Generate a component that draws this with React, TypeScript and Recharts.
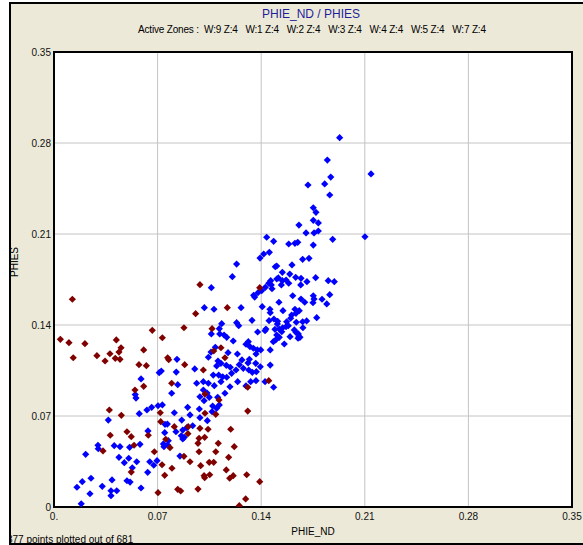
import React from 'react';
import { ScatterChart, Scatter, XAxis, YAxis, CartesianGrid, ReferenceArea } from 'recharts';

// PHIE_ND (x) vs PHIES (y)
const axisTicks = [0, 0.07, 0.14, 0.21, 0.28, 0.35];

const zoneTitle = 'PHIE_ND / PHIES';
const zoneList = 'Active Zones :  W:9 Z:4   W:1 Z:4   W:2 Z:4   W:3 Z:4   W:4 Z:4   W:5 Z:4   W:7 Z:4';
const footNote = '377 points plotted out of 681';

// blue = points passing the cutoffs
const bluePts: [number, number][] = [
  [0.0549, 0.0865], [0.0554, 0.0838], [0.0588, 0.0985], [0.0711, 0.1033], [0.0367, 0.0669], [0.0576, 0.0718],
  [0.0628, 0.0746], [0.066, 0.0767], [0.0703, 0.0779], [0.0635, 0.0585], [0.0214, 0.0405], [0.0297, 0.0475],
  [0.0299, 0.0448], [0.0407, 0.0472], [0.0446, 0.0464], [0.0511, 0.0459], [0.0581, 0.0482], [0.0439, 0.0382],
  [0.0505, 0.0375], [0.0475, 0.0341], [0.0559, 0.0348], [0.0529, 0.0302], [0.0647, 0.0348], [0.0674, 0.0321],
  [0.0696, 0.0356], [0.0633, 0.0267], [0.025, 0.0221], [0.0191, 0.0195], [0.0155, 0.0152], [0.0243, 0.0102],
  [0.0326, 0.0159], [0.0392, 0.0208], [0.0385, 0.0125], [0.0424, 0.0125], [0.0385, 0.0087], [0.0493, 0.0202],
  [0.0514, 0.0192], [0.0588, 0.0146], [0.0184, 0.0025],
  [0.0836, 0.0941], [0.0964, 0.0952], [0.1009, 0.0964], [0.1043, 0.0952], [0.1128, 0.0964], [0.1189, 0.0925],
  [0.1241, 0.0964], [0.1297, 0.0931], [0.1329, 0.0964], [0.1365, 0.0972], [0.1426, 0.0964], [0.0795, 0.0875],
  [0.0986, 0.0848], [0.1014, 0.0818], [0.1049, 0.0844], [0.1106, 0.0844], [0.1117, 0.0785], [0.1155, 0.0875],
  [0.0903, 0.0767], [0.0982, 0.0754], [0.0732, 0.0785], [0.0813, 0.0725], [0.0919, 0.0708], [0.0986, 0.0687],
  [0.1036, 0.0664], [0.0863, 0.0669], [0.075, 0.0636], [0.0766, 0.0638], [0.0937, 0.0625], [0.087, 0.0592],
  [0.0897, 0.061], [0.0824, 0.0579], [0.0748, 0.0572], [0.086, 0.0548], [0.087, 0.0523], [0.088, 0.0536],
  [0.0772, 0.051], [0.0739, 0.0485], [0.0743, 0.0464], [0.0768, 0.0477], [0.0851, 0.0392],
  [0.1009, 0.09], [0.1034, 0.0877], [0.1072, 0.0777], [0.1068, 0.0733], [0.1099, 0.0759], [0.1083, 0.0933],
  [0.1234, 0.1869], [0.1205, 0.1772], [0.1063, 0.1687], [0.1016, 0.1533], [0.1081, 0.1521], [0.1264, 0.1533],
  [0.1234, 0.1418], [0.1248, 0.1395], [0.1338, 0.1436], [0.1133, 0.141], [0.1117, 0.1372], [0.1063, 0.1331],
  [0.112, 0.1331], [0.1149, 0.1323], [0.1167, 0.1305], [0.1211, 0.1277], [0.1376, 0.1346], [0.1432, 0.1369],
  [0.1428, 0.169], [0.1451, 0.1721], [0.1349, 0.1628], [0.1378, 0.1648], [0.1403, 0.1664], [0.109, 0.1228],
  [0.1061, 0.1192], [0.1176, 0.1187], [0.1043, 0.1152], [0.0831, 0.1136], [0.0725, 0.1046], [0.0826, 0.1038],
  [0.0951, 0.1062], [0.1108, 0.1123], [0.1128, 0.1105], [0.1164, 0.109], [0.1191, 0.1075], [0.1099, 0.1085],
  [0.1076, 0.1015], [0.1113, 0.1015], [0.114, 0.1002], [0.1167, 0.0998], [0.1239, 0.1177], [0.127, 0.1131],
  [0.1252, 0.1095], [0.1279, 0.1067], [0.123, 0.1054], [0.12, 0.1028],
  [0.1313, 0.1272], [0.1297, 0.1252], [0.1324, 0.1233], [0.1347, 0.1221], [0.1374, 0.1208], [0.1397, 0.1208],
  [0.1365, 0.1177], [0.132, 0.1136], [0.1311, 0.1108], [0.1363, 0.1105], [0.1394, 0.1079], [0.1367, 0.1041],
  [0.134, 0.1036], [0.1316, 0.1054],
  [0.193, 0.2841], [0.1847, 0.2669], [0.2142, 0.2562], [0.187, 0.2538], [0.1829, 0.2485], [0.1716, 0.2477],
  [0.1863, 0.24], [0.1752, 0.2302], [0.177, 0.2267], [0.1752, 0.2205], [0.1786, 0.2185], [0.1655, 0.2169],
  [0.1703, 0.2108], [0.1757, 0.2108], [0.1786, 0.2123], [0.2101, 0.2079], [0.1883, 0.2059], [0.1437, 0.2075],
  [0.1484, 0.2044], [0.1586, 0.2023], [0.1628, 0.2028], [0.1647, 0.2036], [0.1752, 0.2015], [0.1392, 0.1915],
  [0.1417, 0.1946], [0.1455, 0.1959], [0.168, 0.1905], [0.1723, 0.1913], [0.1608, 0.1862], [0.1495, 0.1848],
  [0.1505, 0.1854],
  [0.1543, 0.1805], [0.1593, 0.1792], [0.1464, 0.1741], [0.1468, 0.1708], [0.1473, 0.1679], [0.1505, 0.1754],
  [0.1516, 0.1762], [0.1543, 0.1741], [0.1568, 0.1746], [0.1536, 0.1708], [0.1586, 0.1721], [0.1633, 0.1767],
  [0.1669, 0.1759], [0.1667, 0.1708], [0.1709, 0.1733], [0.1768, 0.1764], [0.1853, 0.1741], [0.1894, 0.1733],
  [0.1356, 0.1615], [0.1613, 0.1625], [0.1669, 0.16], [0.1694, 0.1575], [0.1752, 0.1625], [0.1757, 0.16],
  [0.175, 0.1572], [0.1811, 0.1598], [0.1863, 0.1633], [0.1843, 0.1562], [0.152, 0.1575], [0.1407, 0.1541],
  [0.1459, 0.1521], [0.1461, 0.1495], [0.1547, 0.151], [0.1628, 0.1521], [0.1657, 0.151], [0.1635, 0.149],
  [0.1606, 0.1477], [0.1599, 0.1452], [0.1775, 0.1456], [0.1453, 0.1433], [0.1486, 0.1446], [0.1511, 0.1428],
  [0.1509, 0.1408], [0.1572, 0.1425], [0.1583, 0.1395], [0.1568, 0.1387], [0.1545, 0.1379], [0.1637, 0.1421],
  [0.168, 0.1425], [0.1707, 0.1431], [0.1682, 0.1379], [0.1426, 0.1356], [0.1493, 0.1367], [0.1522, 0.1369],
  [0.1539, 0.1348], [0.1624, 0.1362], [0.1635, 0.1344], [0.1651, 0.1331], [0.1655, 0.131], [0.1649, 0.1298],
  [0.1662, 0.1305], [0.1595, 0.131], [0.1505, 0.1323], [0.1522, 0.1305], [0.1498, 0.1285], [0.1482, 0.1272],
  [0.1556, 0.1254], [0.1461, 0.1208], [0.1461, 0.1092], [0.1484, 0.0921],
];

// dark red = points failing the cutoffs
const redPts: [number, number][] = [
  [0.0124, 0.1598], [0.0043, 0.129], [0.0101, 0.1264], [0.013, 0.1148], [0.0209, 0.1256], [0.029, 0.1164],
  [0.0345, 0.1123], [0.0378, 0.1179], [0.0421, 0.1285], [0.0453, 0.1225], [0.0439, 0.1192], [0.0414, 0.1144],
  [0.0446, 0.1136], [0.0664, 0.1359], [0.0606, 0.1208], [0.0574, 0.1095], [0.0624, 0.1087], [0.0606, 0.0928],
  [0.0547, 0.09], [0.0374, 0.0746], [0.0455, 0.0705], [0.038, 0.0552], [0.0493, 0.0579], [0.0522, 0.0541],
  [0.0331, 0.0431], [0.0541, 0.0475], [0.0637, 0.0552], [0.0678, 0.0425], [0.0522, 0.0269], [0.0703, 0.011],
  [0.0795, 0.0952], [0.102, 0.0869], [0.1115, 0.0823], [0.1309, 0.0738], [0.102, 0.0721], [0.1093, 0.0713],
  [0.0718, 0.0725], [0.0721, 0.0656], [0.0813, 0.0618], [0.0907, 0.0618], [0.0986, 0.0605], [0.1041, 0.0598],
  [0.1194, 0.0598], [0.0905, 0.0564], [0.098, 0.0528], [0.1018, 0.0536], [0.0755, 0.0521], [0.0973, 0.049],
  [0.111, 0.049], [0.0784, 0.0456], [0.1218, 0.0464], [0.098, 0.0425], [0.1093, 0.0425], [0.0878, 0.039],
  [0.118, 0.0382], [0.0919, 0.0348], [0.1049, 0.0344], [0.1079, 0.0344], [0.073, 0.0325], [0.0991, 0.0318],
  [0.0797, 0.0298], [0.1164, 0.0285], [0.0748, 0.0244], [0.1014, 0.0241], [0.1018, 0.0225], [0.1052, 0.0248],
  [0.1187, 0.0221], [0.1211, 0.0241], [0.1302, 0.0248], [0.139, 0.0195], [0.0836, 0.0136], [0.0856, 0.0123],
  [0.0973, 0.0138], [0.1295, 0.0062], [0.1252, 0.001], [0.0986, 0.171], [0.0957, 0.1487], [0.1171, 0.1533],
  [0.139, 0.1687], [0.0732, 0.1302], [0.0878, 0.1379], [0.1068, 0.1372], [0.1128, 0.1225], [0.1079, 0.12],
  [0.0768, 0.1148], [0.0775, 0.1133], [0.0883, 0.1095], [0.1009, 0.1054], [0.1155, 0.1148], [0.1309, 0.0921],
  [0.1451, 0.0972],
];

const toRows = (pts: [number, number][]) => pts.map(([x, y]) => ({ x, y }));

const FONT = '"Liberation Sans", Arial, sans-serif';

const Diamond = (props: any) => {
  const { cx, cy, fill } = props;
  if (cx == null || cy == null) return null;
  const r = 3.6;
  return <polygon points={`${cx},${cy - r} ${cx + r},${cy} ${cx},${cy + r} ${cx - r},${cy}`} fill={fill} />;
};

const fmtX = (v: number) => (v === 0 ? '0.' : v.toFixed(2));
const fmtY = (v: number) => (v === 0 ? '0' : v.toFixed(2));

export default function App() {
  const tickStyle = { fontSize: 10, fill: '#111', fontFamily: FONT };
  return (
    <div style={{ position: 'absolute', left: 0, top: 0, width: 583, height: 545, background: '#fff', overflow: 'hidden' }}>
      <div style={{ position: 'absolute', left: 9, top: 2, width: 600, height: 543, background: '#ECE9D8' }} />
      <div style={{ position: 'absolute', left: 0, top: 0 }}>
        <ScatterChart width={583} height={545} margin={{ top: 52, right: 11, bottom: 8, left: 14 }}>
          <CartesianGrid stroke="#C4C4C4" fill="#FFFFFF" fillOpacity={1} />
          <XAxis
            type="number"
            dataKey="x"
            domain={[0, 0.35]}
            ticks={axisTicks}
            interval={0}
            tickFormatter={fmtX}
            tickLine={false}
            axisLine={false}
            tickSize={4}
            height={30}
            tick={tickStyle}
            allowDataOverflow
          />
          <YAxis
            type="number"
            dataKey="y"
            domain={[0, 0.35]}
            ticks={axisTicks}
            interval={0}
            tickFormatter={fmtY}
            tickLine={false}
            axisLine={false}
            tickSize={1}
            width={40}
            tick={tickStyle}
            allowDataOverflow
          />
          <Scatter data={toRows(bluePts)} fill="#0000FF" shape={Diamond} isAnimationActive={false} />
          <Scatter data={toRows(redPts)} fill="#800000" shape={Diamond} isAnimationActive={false} />
          <ReferenceArea x1={0} x2={0.35} y1={0} y2={0.35} fill="none" stroke="#000" strokeWidth={2} />
        </ScatterChart>
      </div>
      <svg width={583} height={545} style={{ position: 'absolute', left: 0, top: 0, pointerEvents: 'none' }}>
        <defs>
          <clipPath id="frameClip">
            <rect x={11} y={4} width={580} height={539} />
          </clipPath>
        </defs>
        <g clipPath="url(#frameClip)" fontFamily={FONT}>
          <text x={311} y={14} textAnchor="middle" dominantBaseline="central" fontSize={12} fill="#1E1E9C">
            {zoneTitle}
          </text>
          <text x={312} y={29} textAnchor="middle" dominantBaseline="central" fontSize={10} fill="#000"
            textLength={348} lengthAdjust="spacing" style={{ whiteSpace: 'pre' }}>
            {zoneList}
          </text>
          <text x={313} y={531} textAnchor="middle" dominantBaseline="central" fontSize={10} fill="#000">PHIE_ND</text>
          <text transform="translate(14,262) rotate(-90)" textAnchor="middle" dominantBaseline="central" fontSize={10} fill="#000">PHIES</text>
          <text x={7} y={539} dominantBaseline="central" fontSize={10} fill="#000">{footNote}</text>
        </g>
        <rect x={10} y={3} width={600} height={541} fill="none" stroke="#000" strokeWidth={2} />
      </svg>
    </div>
  );
}
